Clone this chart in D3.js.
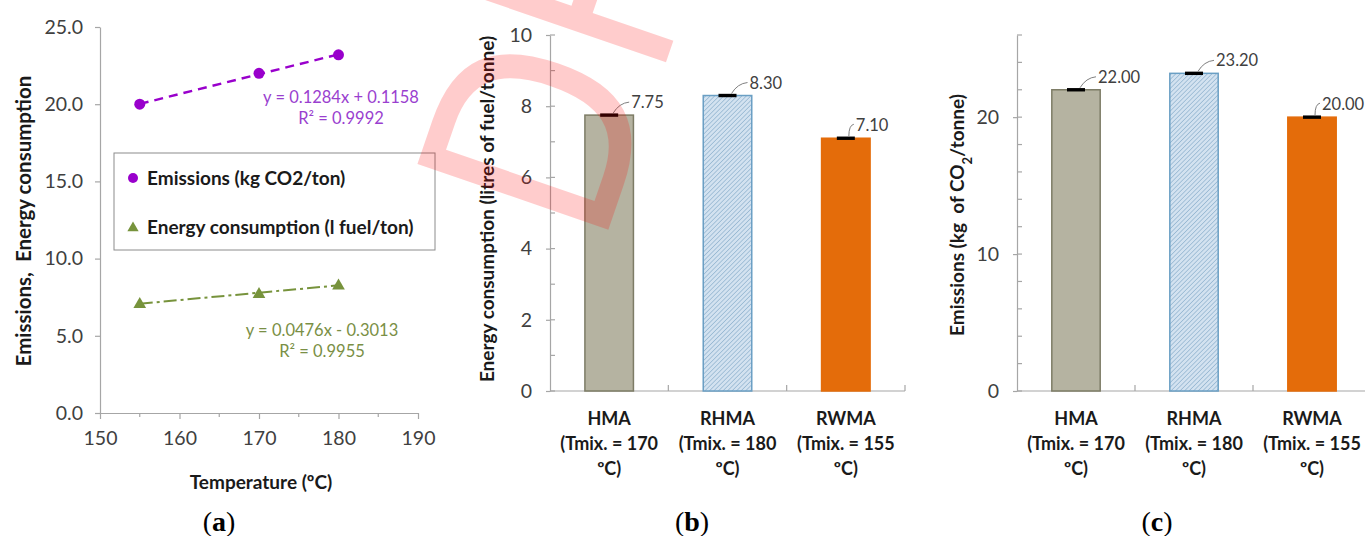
<!DOCTYPE html>
<html><head><meta charset="utf-8">
<script src="https://cdn.jsdelivr.net/npm/d3@7"></script>
<style>
body{margin:0;background:#fff}
svg{display:block}
text{font-family:Lato,"Open Sans",sans-serif;white-space:pre}
</style>
</head><body>
<svg id="chart" width="1365" height="536"></svg>
<script>
// ---------- data ----------
const temperatures = [155, 170, 180];
const emissionsPts = [20.0, 22.0, 23.2];
const energyPts = [7.10, 7.75, 8.30];
const emissionsFit = [0.1284, 0.1158];
const energyFit = [0.0476, -0.3013];
const emissionsEq = ["y = 0.1284x + 0.1158", "R² = 0.9992"];
const energyEq = ["y = 0.0476x - 0.3013", "R² = 0.9955"];
const aXTicks = [150, 160, 170, 180, 190];
const aYTicks = [0, 5, 10, 15, 20, 25];
const legendLabels = ["Emissions (kg CO2/ton)", "Energy consumption (l fuel/ton)"];
const categories = ["HMA", "RHMA", "RWMA"];
const mixTemps = ["170", "180", "155"];
const energyBars = [7.75, 8.30, 7.10];
const emissionBars = [22.00, 23.20, 20.00];
const energyErr = [0.02, 0.02, 0.02];
const emissionErr = [0.05, 0.05, 0.05];
const bYTicks = [0, 2, 4, 6, 8, 10];
const cYTicks = [0, 10, 20];

// ---------- styles ----------
const AXIS = "#a6a6a6", TXT = "#404040", DARK = "#1a1a1a";
const PURPLE = "#9900cc", GREEN = "#77933c";
const barFills = ["#b5b3a1", "url(#hatch)", "#e46c0a"];
const barStrokes = ["#7d7c66", "#6a9fc4", "#e46c0a"];

const svg = d3.select("#chart");
svg.append("rect").attr("width", 1365).attr("height", 536).attr("fill", "#fff");
const defs = svg.append("defs");
const pat = defs.append("pattern").attr("id", "hatch").attr("patternUnits", "userSpaceOnUse")
  .attr("width", 3.2).attr("height", 3.2).attr("patternTransform", "rotate(45)");
pat.append("rect").attr("width", 3.2).attr("height", 3.2).attr("fill", "#d3e2f0");
pat.append("line").attr("x1", 0).attr("y1", 0).attr("x2", 0).attr("y2", 3.2)
  .attr("stroke", "#7fa6c6").attr("stroke-width", 1.1);

function styleAxis(sel, size) {
  sel.select(".domain").attr("stroke", AXIS).attr("stroke-width", 1.2);
  sel.selectAll(".tick line").attr("stroke", AXIS).attr("stroke-width", 1.2);
  sel.selectAll(".tick text").attr("fill", TXT).style("font-size", size + "px").style("font-family", "Lato");
}

// ---------- panel (a) ----------
(function () {
  const x = d3.scaleLinear([150, 190], [100, 418]);
  const y = d3.scaleLinear([0, 25], [413, 27]);
  const g = svg.append("g");
  const ya = g.append("g").attr("transform", "translate(100,0)")
    .call(d3.axisLeft(y).tickValues(aYTicks).tickFormat(d3.format(".1f")).tickSize(5).tickSizeOuter(0).tickPadding(12));
  styleAxis(ya, 19.5);
  const xa = g.append("g").attr("transform", "translate(0,413)")
    .call(d3.axisBottom(x).tickValues(aXTicks).tickSize(6).tickSizeOuter(0).tickPadding(12));
  styleAxis(xa, 19.5);
  g.selectAll(".mx").data(d3.range(155, 190, 10)).join("line")
    .attr("x1", d => x(d)).attr("x2", d => x(d)).attr("y1", 413).attr("y2", 417)
    .attr("stroke", AXIS).attr("stroke-width", 1.2);

  // trendlines
  const tr = (fit) => [temperatures[0], temperatures[temperatures.length - 1]].map(t => [x(t), y(fit[0] * t + fit[1])]);
  g.append("path").attr("d", d3.line()(tr(emissionsFit))).attr("stroke", PURPLE).attr("stroke-width", 2.4)
    .attr("stroke-dasharray", "9,6").attr("fill", "none");
  g.append("path").attr("d", d3.line()(tr(energyFit))).attr("stroke", GREEN).attr("stroke-width", 2)
    .attr("stroke-dasharray", "13,4,3,4").attr("fill", "none");

  // markers
  g.selectAll(".em").data(temperatures).join("circle")
    .attr("cx", d => x(d)).attr("cy", (d, i) => y(emissionsPts[i])).attr("r", 5.5).attr("fill", PURPLE);
  const tri = d3.symbol(d3.symbolTriangle, 70);
  g.selectAll(".en").data(temperatures).join("path")
    .attr("d", tri).attr("transform", (d, i) => `translate(${x(d)},${y(energyPts[i]) + 1})`).attr("fill", GREEN);

  // equations
  emissionsEq.forEach((t, i) => g.append("text").attr("x", 341).attr("y", 103 + i * 21).attr("text-anchor", "middle")
    .attr("fill", "#9a3fcf").style("font-size", "16.5px").text(t));
  energyEq.forEach((t, i) => g.append("text").attr("x", 322).attr("y", 336 + i * 21).attr("text-anchor", "middle")
    .attr("fill", "#7a8f45").style("font-size", "16.5px").text(t));

  // legend
  g.append("rect").attr("x", 114).attr("y", 153).attr("width", 321).attr("height", 97)
    .attr("fill", "#fff").attr("stroke", "#8c8c8c").attr("stroke-width", 1);
  g.append("circle").attr("cx", 133).attr("cy", 178).attr("r", 5).attr("fill", PURPLE);
  g.append("path").attr("d", d3.symbol(d3.symbolTriangle, 55)).attr("transform", "translate(133,228)").attr("fill", GREEN);
  legendLabels.forEach((t, i) => g.append("text").attr("x", 147).attr("y", 185 + i * 49)
    .attr("fill", DARK).style("font-size", "19px").style("font-weight", "bold").text(t));

  // titles
  g.append("text").attr("x", 261).attr("y", 489).attr("text-anchor", "middle").attr("fill", DARK)
    .style("font-size", "19px").style("font-weight", "bold").text("Temperature (ºC)");
  g.append("text").attr("transform", "translate(31,221) rotate(-90)").attr("text-anchor", "middle").attr("fill", DARK)
    .style("font-size", "20.5px").style("font-weight", "bold").text("Emissions,  Energy consumption");
})();

// ---------- bar panels ----------
function barPanel(cfg) {
  const x = d3.scaleBand(categories, [cfg.left, cfg.right]).padding(0);
  const y = d3.scaleLinear([0, cfg.max], [391, 35]);
  const g = svg.append("g");
  const ya = g.append("g").attr("transform", `translate(${cfg.left},0)`)
    .call(d3.axisLeft(y).tickValues(cfg.majors).tickFormat(d3.format("d")).tickSize(4).tickSizeOuter(0).tickPadding(14));
  styleAxis(ya, 19.5);
  g.selectAll(".mn").data(d3.range(0, cfg.max + 0.001, cfg.minor)).join("line")
    .attr("x1", cfg.left).attr("x2", cfg.left + 5).attr("y1", d => y(d)).attr("y2", d => y(d))
    .attr("stroke", AXIS).attr("stroke-width", 1.2);
  // x axis
  g.append("line").attr("x1", cfg.left).attr("x2", cfg.right).attr("y1", y(0)).attr("y2", y(0))
    .attr("stroke", AXIS).attr("stroke-width", 1.2);
  g.selectAll(".bt").data(categories).join("line")
    .attr("x1", d => x(d) + x.bandwidth()).attr("x2", d => x(d) + x.bandwidth())
    .attr("y1", y(0)).attr("y2", y(0) - 6).attr("stroke", AXIS).attr("stroke-width", 1.2);
  const bw = x.bandwidth() * 0.41;
  const cx = d => x(d) + x.bandwidth() / 2;
  // bars
  g.selectAll(".bar").data(categories).join("rect")
    .attr("x", d => cx(d) - bw / 2).attr("width", bw)
    .attr("y", (d, i) => y(cfg.values[i])).attr("height", (d, i) => y(0) - y(cfg.values[i]))
    .attr("fill", (d, i) => barFills[i]).attr("stroke", (d, i) => barStrokes[i]).attr("stroke-width", 1.5);
  // error bars
  g.selectAll(".err").data(categories).join("rect")
    .attr("x", d => cx(d) - 9).attr("width", 18)
    .attr("y", (d, i) => Math.min(y(cfg.values[i] + cfg.errs[i]), y(cfg.values[i]) - 1.7))
    .attr("height", (d, i) => Math.max(y(cfg.values[i] - cfg.errs[i]) - y(cfg.values[i] + cfg.errs[i]), 3.4))
    .attr("fill", "#000");
  // value labels with leader (last label sits closer, as in the original)
  const ldx = [22, 22, 10];
  g.selectAll(".ld").data(categories).join("path")
    .attr("d", (d, i) => {
      const px = cx(d), py = y(cfg.values[i]), e = px + ldx[i] - 2;
      return i < 2
        ? `M${px + 4},${py - 2} Q${px + 10},${py - 12} ${e},${py - 13}`
        : `M${px + 3},${py - 2} Q${px + 3},${py - 13} ${e},${py - 14}`;
    }).attr("fill", "none").attr("stroke", "#7f7f7f").attr("stroke-width", 1);
  g.selectAll(".vl").data(categories).join("text")
    .attr("x", (d, i) => cx(d) + ldx[i]).attr("y", (d, i) => y(cfg.values[i]) - 7)
    .attr("fill", TXT).style("font-size", "16.5px").text((d, i) => cfg.values[i].toFixed(2));
  // category labels
  categories.forEach((c, i) => {
    const lines = [c, "(Tmix. = " + mixTemps[i], "ºC)"];
    lines.forEach((t, j) => g.append("text").attr("x", cx(c)).attr("y", 425 + j * 25)
      .attr("text-anchor", "middle").attr("fill", DARK).style("font-size", "18px").style("font-weight", "bold").text(t));
  });
  // y title
  const tt = g.append("text").attr("transform", `translate(${cfg.titleX},${cfg.titleY}) rotate(-90)`)
    .attr("text-anchor", "middle").attr("fill", DARK).style("font-size", "19px").style("font-weight", "bold");
  cfg.title.forEach(p => {
    const s = tt.append("tspan").text(p[0]);
    if (p[1]) s.attr("baseline-shift", "sub").style("font-size", "13px");
  });
}

barPanel({left: 550, right: 905, max: 10, values: energyBars, errs: energyErr, majors: bYTicks, minor: 1,
  titleX: 494, titleY: 209, title: [["Energy consumption (litres of fuel/tonne)"]]});
barPanel({left: 1017, right: 1371, max: 26, values: emissionBars, errs: emissionErr, majors: cYTicks, minor: 2,
  titleX: 964, titleY: 215, title: [["Emissions (kg  of CO"], ["2", true], ["/tonne)"]]});

// ---------- panel letters ----------
[["a", 219], ["b", 692], ["c", 1157]].forEach(([l, px]) => {
  const t = svg.append("text").attr("x", px).attr("y", 531).attr("text-anchor", "middle")
    .attr("fill", "#000").style("font-family", "'Liberation Serif', serif").style("font-size", "28px");
  t.append("tspan").text("(");
  t.append("tspan").style("font-weight", "bold").text(l);
  t.append("tspan").text(")");
});

// ---------- watermark ----------
svg.append("text").attr("transform", "translate(601,251) rotate(-71) scale(0.83,1)")
  .attr("fill", "red").attr("fill-opacity", 0.2)
  .style("font-family", "'DejaVu Sans'").style("font-size", "277px")
  .text("DRAFT");
</script>
</body></html>
